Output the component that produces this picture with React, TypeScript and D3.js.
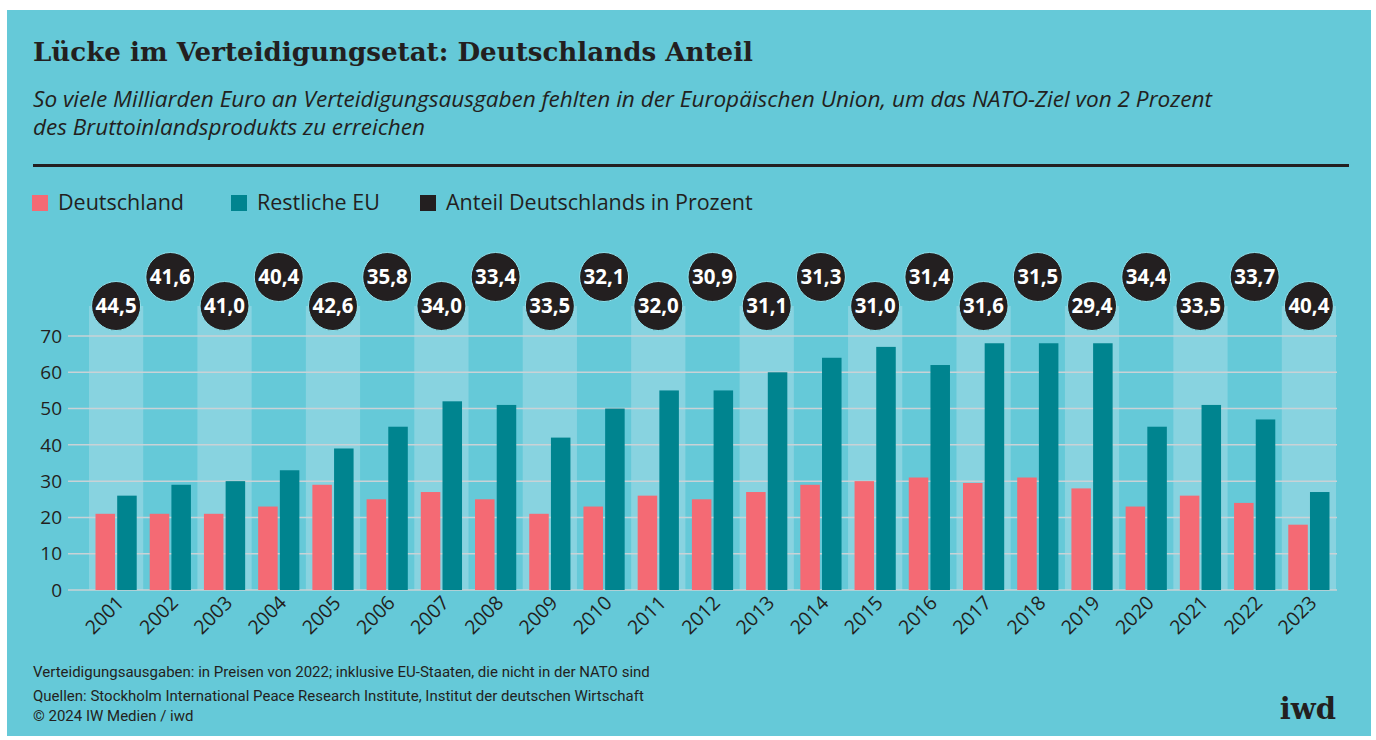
import React from "react";
import * as d3 from "d3";

const years = ["2001","2002","2003","2004","2005","2006","2007","2008","2009","2010","2011","2012","2013","2014","2015","2016","2017","2018","2019","2020","2021","2022","2023"];
const deutschland = [21,21,21,23,29,25,27,25,21,23,26,25,27,29,30,31,29.5,31,28,23,26,24,18];
const restEU = [26,29,30,33,39,45,52,51,42,50,55,55,60,64,67,62,68,68,68,45,51,47,27];
const anteil = ["44,5","41,6","41,0","40,4","42,6","35,8","34,0","33,4","33,5","32,1","32,0","30,9","31,1","31,3","31,0","31,4","31,6","31,5","29,4","34,4","33,5","33,7","40,4"];
const yTicks = [0,10,20,30,40,50,60,70];
const seriesKeys = ["de","eu"];
const legendItems = [
  { label: "Deutschland", color: "#f46a74", x: 32 },
  { label: "Restliche EU", color: "#00848f", x: 231 },
  { label: "Anteil Deutschlands in Prozent", color: "#231f20", x: 420 },
];

const BG = "#65c9d8";
const LIGHT = "#8ed5e2";
const RED = "#f46a74";
const TEAL = "#00848f";
const DARK = "#231f20";
const SANS = "'Open Sans', 'Noto Sans', sans-serif";

export default function App() {
  const W = 1376, H = 740;
  const x = d3.scaleBand<string>().domain(years).range([89, 1336]).paddingInner(0).paddingOuter(0);
  const inner = d3.scaleBand<string>().domain(seriesKeys).range([0, x.bandwidth()]).paddingInner(0.1).paddingOuter(0.3);
  const y = d3.scaleLinear().domain([0, 70]).range([590, 336]);
  const circleLow = 306, circleHigh = 277;

  return (
    <div style={{ position: "fixed", left: 0, top: 0 }}>
      <svg width={W} height={H} style={{ display: "block", background: "#fff" }}>
        <rect x={7} y={10} width={1364} height={726} fill={BG} />
        <text x={33} y={61} fontFamily="'DejaVu Serif', serif" fontWeight="bold" fontSize={26} fill={DARK} textLength={720} lengthAdjust="spacingAndGlyphs">
          Lücke im Verteidigungsetat: Deutschlands Anteil
        </text>
        <text x={33} y={107} fontFamily={SANS} fontStyle="italic" fontSize={21} fill={DARK} textLength={1179} lengthAdjust="spacingAndGlyphs">
          So viele Milliarden Euro an Verteidigungsausgaben fehlten in der Europäischen Union, um das NATO-Ziel von 2 Prozent
        </text>
        <text x={33} y={135} fontFamily={SANS} fontStyle="italic" fontSize={21} fill={DARK} textLength={392} lengthAdjust="spacingAndGlyphs">
          des Bruttoinlandsprodukts zu erreichen
        </text>
        <rect x={33} y={164} width={1316} height={3} fill={DARK} />

        {legendItems.map((d) => (
          <g key={d.label}>
            <rect x={d.x} y={195} width={16} height={16} fill={d.color} />
            <text x={d.x + 26} y={210} fontFamily={SANS} fontSize={21.5} fill={DARK}>{d.label}</text>
          </g>
        ))}

        {years.map((yr, i) =>
          i % 2 === 0 ? (
            <rect key={"band" + yr} x={x(yr)!} y={circleLow} width={x.bandwidth()} height={y(0) - circleLow} fill={LIGHT} opacity={0.85} />
          ) : null
        )}

        {yTicks.map((t) => (
          <g key={"t" + t}>
            <line x1={68} x2={1337} y1={y(t)} y2={y(t)} stroke="#c9d2d6" strokeWidth={1.5} />
            <text x={62} y={y(t)} dy="0.35em" textAnchor="end" fontFamily={SANS} fontSize={19} fill={DARK}>{t}</text>
          </g>
        ))}

        {years.map((yr, i) => (
          <g key={"bars" + yr} transform={`translate(${x(yr)},0)`}>
            <rect x={inner("de")!} y={y(deutschland[i])} width={inner.bandwidth()} height={y(0) - y(deutschland[i])} fill={RED} />
            <rect x={inner("eu")!} y={y(restEU[i])} width={inner.bandwidth()} height={y(0) - y(restEU[i])} fill={TEAL} />
          </g>
        ))}

        {years.map((yr, i) => {
          const cx = x(yr)! + x.bandwidth() / 2;
          return (
            <text key={"xl" + yr} transform={`translate(${cx + 9},${604}) rotate(-45)`} textAnchor="end" fontFamily={SANS} fontSize={19.5} fill={DARK}>
              {yr}
            </text>
          );
        })}

        {years.map((yr, i) => {
          const cx = x(yr)! + x.bandwidth() / 2;
          const cy = i % 2 === 0 ? circleLow : circleHigh;
          return (
            <g key={"c" + yr}>
              <circle cx={cx} cy={cy} r={24.5} fill={DARK} stroke="#8fe3ee" strokeWidth={1} />
              <text x={cx} y={cy} dy="0.36em" textAnchor="middle" fontFamily={SANS} fontWeight="bold" fontSize={20.5} fill="#fff">
                {anteil[i]}
              </text>
            </g>
          );
        })}

        <text x={33} y={677} fontFamily="Roboto, sans-serif" fontSize={15} fill={DARK}>
          Verteidigungsausgaben: in Preisen von 2022; inklusive EU-Staaten, die nicht in der NATO sind
        </text>
        <text x={33} y={701} fontFamily="Roboto, sans-serif" fontSize={15} fill={DARK}>
          Quellen: Stockholm International Peace Research Institute, Institut der deutschen Wirtschaft
        </text>
        <text x={33} y={721} fontFamily="Roboto, sans-serif" fontSize={15} fill={DARK}>
          © 2024 IW Medien / iwd
        </text>
        <text x={1336} y={719} textAnchor="end" fontFamily="'DejaVu Serif', serif" fontWeight="bold" fontSize={29} fill={DARK}>
          iwd
        </text>
      </svg>
    </div>
  );
}
